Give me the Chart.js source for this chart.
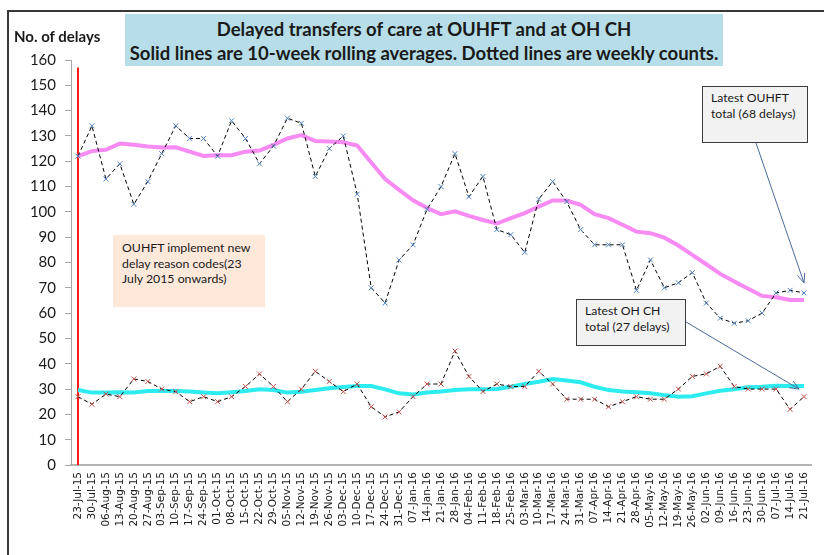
<!DOCTYPE html>
<html>
<head>
<meta charset="utf-8">
<script src="https://cdn.jsdelivr.net/npm/chart.js@4/dist/chart.umd.min.js"></script>
<style>
  body { margin: 0; background: #fff; overflow: hidden; }
  #wrap { position: relative; width: 824px; height: 555px; overflow: hidden; }
  #frame { position: absolute; left: 7px; top: 10px; width: 900px; height: 700px; border: 2px solid #383838; }
  #chartOne { position: absolute; left: 0; top: 0; }
  .note { position: absolute; font-family: Lato, sans-serif; color: #1a1a1a; }
  #title { left: 125px; top: 14px; width: 598px; height: 52px; background: #b7dee8; font-weight: bold; font-size: 18.5px; text-align: center; line-height: 24px; padding-top: 3px; box-sizing: border-box; white-space: nowrap; }
  #ytitle { left: 14px; top: 27px; font-weight: bold; font-size: 15px; }
  #codes { left: 113px; top: 235px; width: 152px; height: 72px; background: #fde8da; font-size: 12.3px; line-height: 15.5px; padding: 5px 0 0 9px; box-sizing: border-box; }
  .callout { background: #f2f2f2; border: 1.5px solid #3c3c3c; font-size: 12.2px; line-height: 16px; padding: 3px 0 0 8px; box-sizing: border-box; }
  #lastOu { left: 702px; top: 86px; width: 106px; height: 57px; }
  #lastOh { left: 576px; top: 299px; width: 110px; height: 47px; }
</style>
</head>
<body>
<div id="wrap">
  <div id="frame"></div>
  <canvas id="chartOne" width="824" height="555"></canvas>
  <div class="note" id="title">Delayed transfers of care at OUHFT and at OH CH<br>Solid lines are 10-week rolling averages. Dotted lines are weekly counts.</div>
  <div class="note" id="ytitle">No. of delays</div>
  <div class="note" id="codes">OUHFT implement new<br>delay reason codes(23<br>July 2015 onwards)</div>
  <div class="note callout" id="lastOu">Latest OUHFT<br>total (68 delays)</div>
  <div class="note callout" id="lastOh">Latest OH CH<br>total (27 delays)</div>
</div>
<script>
// week starting labels along the x-axis
var weeks = ["23-Jul-15","30-Jul-15","06-Aug-15","13-Aug-15","20-Aug-15","27-Aug-15","03-Sep-15","10-Sep-15","17-Sep-15","24-Sep-15",
  "01-Oct-15","08-Oct-15","15-Oct-15","22-Oct-15","29-Oct-15","05-Nov-15","12-Nov-15","19-Nov-15","26-Nov-15","03-Dec-15",
  "10-Dec-15","17-Dec-15","24-Dec-15","31-Dec-15","07-Jan-16","14-Jan-16","21-Jan-16","28-Jan-16","04-Feb-16","11-Feb-16",
  "18-Feb-16","25-Feb-16","03-Mar-16","10-Mar-16","17-Mar-16","24-Mar-16","31-Mar-16","07-Apr-16","14-Apr-16","21-Apr-16",
  "28-Apr-16","05-May-16","12-May-16","19-May-16","26-May-16","02-Jun-16","09-Jun-16","16-Jun-16","23-Jun-16","30-Jun-16",
  "07-Jul-16","14-Jul-16","21-Jul-16"];

// weekly counts (dotted lines)
var ouhftWeekly = [122,134,113,119,103,112,123,134,129,129, 122,136,129,119,126,137,135,114,125,130,
  107,70,64,81,87,101,110,123,106,114, 93,91,84,105,112,104,93,87,87,87,
  69,81,70,72,76,64,58,56,57,60, 68,69,68];
var ohchWeekly = [27,24,28,27,34,33,30,29,25,27, 25,27,31,36,31,25,30,37,33,29,
  32,23,19,21,27,32,32,45,35,29, 32,31,31,37,32,26,26,26,23,25,
  27,26,26,30,35,36,39,31,30,30, 30,22,27];

// 10-week rolling averages (solid lines)
var ouhftAvg = [122,124,124.5,127,126.5,125.8,125.4,125.5,123.8,122.1, 122.4,122.4,123.8,124.2,126.5,129,130.3,128,127.8,127.5,
  126.2,119.5,113,108.7,104.6,101.5,99.1,100.2,98.4,96.8, 95.4,97.5,99.5,102.1,104.5,104.5,102.8,99.1,97.5,94.9,
  92.2,91.6,89.8,86.7,83,79.3,75.5,72.5,69.6,66.8, 66.3,65.2,65.2];
var ohchAvg = [29.6,28.6,28.6,28.7,28.6,29.2,29.2,29.2,29,28.6, 28.3,28.7,29.2,29.9,29.6,28.6,28.9,29.6,30.3,30.8,
  31.2,31.2,29.9,28.3,27.9,28.6,29,29.6,29.9,29.9, 30,30.9,32,32.9,34,33.4,32.7,30.9,29.6,29,
  28.7,28.3,27.6,27,27.2,28.3,29.3,29.9,30.7,30.9, 31.3,31.2,31.2];

// red marker line for the new delay codes (23 July 2015)
var codesWeek = 0;
var codesLineTop = 157;

function arrow(ctx, x1, y1, x2, y2) {
  var a = Math.atan2(y2 - y1, x2 - x1), h = 10;
  ctx.beginPath();
  ctx.moveTo(x1, y1);
  ctx.lineTo(x2, y2);
  ctx.moveTo(x2 - h * Math.cos(a - 0.4), y2 - h * Math.sin(a - 0.4));
  ctx.lineTo(x2, y2);
  ctx.lineTo(x2 - h * Math.cos(a + 0.4), y2 - h * Math.sin(a + 0.4));
  ctx.stroke();
}

var extras = {
  id: 'extras',
  beforeDatasetsDraw: function(chart) {
    var ctx = chart.ctx, x = chart.scales.x, y = chart.scales.y;
    var px = x.getPixelForValue(codesWeek);
    ctx.save();
    ctx.strokeStyle = '#ff1a1a';
    ctx.lineWidth = 2;
    ctx.beginPath();
    ctx.moveTo(px, y.getPixelForValue(0));
    ctx.lineTo(px, y.getPixelForValue(codesLineTop));
    ctx.stroke();
    ctx.restore();
  },
  afterDraw: function(chart) {
    var ctx = chart.ctx, x = chart.scales.x, y = chart.scales.y;
    var last = weeks.length - 1;
    var lx = x.getPixelForValue(last);
    ctx.save();
    ctx.strokeStyle = '#4a6a9a';
    ctx.lineWidth = 1;
    arrow(ctx, 756, 143, lx, y.getPixelForValue(ouhftWeekly[last]) - 10);
    arrow(ctx, 686, 322, lx - 5, y.getPixelForValue(ohchWeekly[last] + 3));
    ctx.restore();
  }
};

var ctx = document.getElementById("chartOne");
var chartOne = new Chart(ctx, {
  type: 'line',
  data: {
    labels: weeks,
    datasets: [
      {
        label: "OUHFT weekly",
        data: ouhftWeekly,
        borderColor: "#000000",
        borderWidth: 1,
        borderDash: [4, 3],
        pointStyle: 'crossRot',
        pointRadius: 3.5,
        pointBorderColor: "#4f81bd",
        pointBorderWidth: 1,
        fill: false
      },
      {
        label: "OH CH weekly",
        data: ohchWeekly,
        borderColor: "#000000",
        borderWidth: 1,
        borderDash: [4, 3],
        pointStyle: 'crossRot',
        pointRadius: 3.5,
        pointBorderColor: "#c0504d",
        pointBorderWidth: 1,
        fill: false
      },
      {
        label: "OUHFT 10-week average",
        data: ouhftAvg,
        borderColor: "#f78af3",
        borderWidth: 4,
        pointRadius: 0,
        fill: false
      },
      {
        label: "OH CH 10-week average",
        data: ohchAvg,
        borderColor: "#2cecef",
        borderWidth: 4,
        pointRadius: 0,
        fill: false
      }
    ]
  },
  options: {
    responsive: false,
    animation: false,
    layout: { padding: { left: 0, top: 60, right: 13, bottom: 0 } },
    plugins: { legend: { display: false }, tooltip: { enabled: false } },
    elements: { line: { tension: 0 } },
    scales: {
      x: {
        offset: true,
        afterFit: function(s) { s.height = 90; },
        grid: { display: true, drawOnChartArea: false, drawTicks: false, offset: true },
        border: { color: '#b4b4b4', width: 2 },
        ticks: {
          autoSkip: false, maxRotation: 90, minRotation: 90, padding: 7,
          color: '#1a1a1a', font: { family: 'DejaVu Sans', size: 10.5 }
        }
      },
      y: {
        min: 0, max: 160,
        afterFit: function(s) { s.width = 71; },
        grid: { drawOnChartArea: false, drawTicks: true, tickLength: 6, color: '#a6a6a6' },
        border: { color: '#a6a6a6', width: 1 },
        ticks: {
          stepSize: 10, padding: 9,
          color: '#1a1a1a', font: { family: 'Lato', size: 15 }
        }
      }
    }
  },
  plugins: [extras]
});
</script>
</body>
</html>
